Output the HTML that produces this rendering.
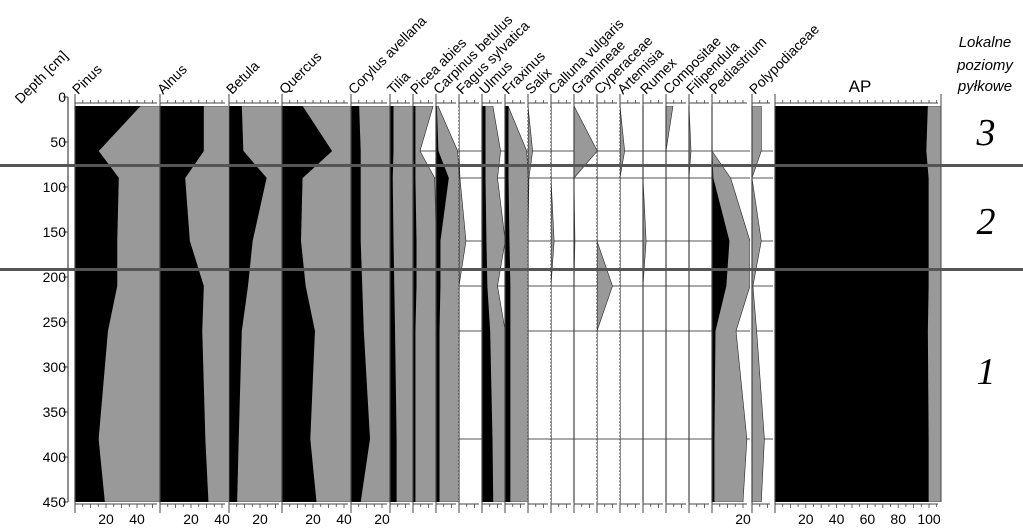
<!DOCTYPE html>
<html><head><meta charset="utf-8">
<style>
html,body{margin:0;padding:0;background:#fff;}
svg{display:block;font-family:"Liberation Sans",Arial,sans-serif;}
</style></head>
<body>
<svg id="chart" width="1023" height="532" viewBox="0 0 1023 532" xmlns="http://www.w3.org/2000/svg">
<g id="plots"></g>
<g id="axes"></g>
<text x="20" y="103" font-size="14" transform="rotate(-45 22 103)">Depth [cm]</text>
<text x="860" y="92" font-size="17" text-anchor="middle">AP</text>
<g font-style="italic" font-size="15" text-anchor="middle">
<text x="985" y="47">Lokalne</text><text x="985" y="70">poziomy</text><text x="985" y="91">pyłkowe</text>
</g>
<rect x="0" y="164" width="1023" height="3" fill="#555"/>
<rect x="0" y="268" width="1023" height="3" fill="#555"/>
<g font-family="'Liberation Serif',serif" font-style="italic" font-size="38" text-anchor="middle">
<text x="986" y="145">3</text>
<text x="986" y="234">2</text>
<text x="986" y="384">1</text>
</g>
</svg>
<script>
// ---- data ----
const depths=[10,60,90,160,210,260,380,450];
const depthTicks=[0,50,100,150,200,250,300,350,400,450];
const taxa=["Pinus","Alnus","Betula","Quercus","Corylus avellana","Tilia","Picea abies","Carpinus betulus","Fagus sylvatica","Ulmus","Fraxinus","Salix","Calluna vulgaris","Gramineae","Cyperaceae","Artemisia","Rumex","Compositae","Filipendula","Pediastrium","Polypodiaceae","AP"];
const pinusVals=[42,15,28,27,27,21,15,19];
const alnusVals=[28,28,16,19,28,27,29,31];
const betulaVals=[8,9,24,15,12,8,6,5];
const quercusVals=[13,32,13,12,15,21,18,22];
const corylusVals=[5,6,6,6,7,8,12,6];
const tiliaVals=[2,2,1.5,2,2.5,3,4,4];
const piceaVals=[1.3,1.3,1.3,2,2,1.3,1.3,1.3];
const piceaExag=[13,4.5,14,15,15,15,15,15];
const carpinusVals=[0.3,1.3,8,2.6,2.6,2,2,2];
const carpinusExag=[1.3,14,15,15,15,15,15,15];
const fagusVals=[0,0,0,0,0,0,0,0];
const fagusExag=[0,0,0.6,4.5,0,0,0,0];
const ulmusVals=[2,2,2,2.6,3.2,5,6.5,7];
const ulmusExag=[7,12,10,15,10,15,15,15];
const fraxinusVals=[2,2,2,2.6,3.2,3.2,3.2,3.2];
const fraxinusExag=[2,14,15,15,15,15,15,15];
const salixExag=[0,3,0.6,0,0,0,0,0];
const callunaExag=[0,0,0,2,0,0,0,0];
const gramineaeExag=[0,15,0,0.6,0,0,0,0];
const cyperaceaeExag=[0,0,0,0,10,0,0,0];
const artemisiaExag=[0,3,0,0,0,0,0,0];
const rumexExag=[0,0,0,2,0,0,0,0];
const compositaeExag=[4.5,0,0,0,0,0,0,0];
const filipendulaExag=[0,1.3,0,0,0,0,0,0];
const pediastriumVals=[0,0,0.6,11,9,2,1.3,1.3];
const pediastriumExag=[0,0,12,24.5,24.5,15.5,22.5,20];
const polypodExag=[6,6,0,6,0.6,3,8,6];
const apVals=[99,98,99.5,99.5,99.5,99,99.5,99.5];
const tickLabelsPct=[20,40];
const apTickLabels=[20,40,60,80,100];

// ---- layout ----
const Z=new Array(8).fill(0), FULL=new Array(8).fill(200);
const cols=[
 {l:75,r:160,b:pinusVals,g:FULL,t:[20,40]},
 {l:160,r:228,b:alnusVals,g:FULL,t:[20,40]},
 {l:229,r:282,b:betulaVals,g:FULL,t:[20]},
 {l:282,r:351,b:quercusVals,g:FULL,t:[20,40]},
 {l:351,r:390,b:corylusVals,g:FULL,t:[20]},
 {l:390,r:413,b:tiliaVals,g:FULL,t:[]},
 {l:413,r:436,b:piceaVals,g:piceaExag,t:[]},
 {l:436,r:459,b:carpinusVals,g:carpinusExag,t:[]},
 {l:459,r:482,b:fagusVals,g:fagusExag,t:[],dot:true},
 {l:482,r:505,b:ulmusVals,g:ulmusExag,t:[]},
 {l:505,r:528,b:fraxinusVals,g:fraxinusExag,t:[]},
 {l:528,r:551,b:Z,g:salixExag,t:[],dot:true},
 {l:551,r:574,b:Z,g:callunaExag,t:[],dot:true},
 {l:574,r:597,b:Z,g:gramineaeExag,t:[]},
 {l:597,r:620,b:Z,g:cyperaceaeExag,t:[],dot:true},
 {l:620,r:643,b:Z,g:artemisiaExag,t:[],dot:true},
 {l:643,r:666,b:Z,g:rumexExag,t:[]},
 {l:666,r:689,b:Z,g:compositaeExag,t:[]},
 {l:689,r:712,b:Z,g:filipendulaExag,t:[]},
 {l:712,r:750,b:pediastriumVals,g:pediastriumExag,t:[20]},
 {l:752,r:773,b:Z,g:polypodExag,t:[]},
 {l:775,r:941,b:apVals,g:FULL,t:apTickLabels,ap:true}
];
const K=1.55, KAP=1.54;
const NS="http://www.w3.org/2000/svg";
function y(d){return 97+0.9*d;}
function mk(tag,attrs,parent){const e=document.createElementNS(NS,tag);for(const k in attrs)e.setAttribute(k,attrs[k]);parent.appendChild(e);return e;}
const plots=document.getElementById('plots'), axes=document.getElementById('axes');
const defs=mk('defs',{},plots);
const sampleDepths=[60,90,160,210,260,380];

cols.forEach((c,i)=>{
  const k=c.ap?KAP:K;
  const g=mk('g',{},plots);
  
  
  const cp=mk('clipPath',{id:'cp'+i},defs);
  mk('rect',{x:c.l,y:y(10),width:c.r-c.l,height:y(450)-y(10)},cp);
  // sample lines
  if(c.l>=413&&!c.ap){
    sampleDepths.forEach(d=>{
      const ln=mk('line',{x1:c.l,x2:c.r,y1:y(d),y2:y(d),stroke:'#555','stroke-width':1},g);
      
      
    });
  }
  const inner=mk('g',{'clip-path':'url(#cp'+i+')'},g);
  let gp=c.l+','+y(depths[0])+' ';
  depths.forEach((d,j)=>{gp+=(c.l+Math.max(c.g[j],c.b[j])*k)+','+y(d)+' ';});
  gp+=c.l+','+y(depths[depths.length-1]);
  const gpoly=mk('polygon',{points:gp,fill:'#999',stroke:'#222','stroke-width':0.6},inner);
  
  
  let bp=c.l+','+y(depths[0])+' ';
  depths.forEach((d,j)=>{bp+=(c.l+c.b[j]*k)+','+y(d)+' ';});
  bp+=c.l+','+y(depths[depths.length-1]);
  const bpoly=mk('polygon',{points:bp,fill:'#000',stroke:'#000','stroke-width':0.8},inner);
  
  
  // left border
  mk('line',{x1:c.l,x2:c.l,y1:y(10),y2:y(450),stroke:'#444','stroke-width':1.2,'stroke-dasharray':c.dot?'2,1.5':'none'},g);
  // top axis
  mk('line',{x1:c.l,x2:c.r-3,y1:103,y2:103,stroke:'#444','stroke-width':1},g);
  mk('line',{x1:c.l,x2:c.l,y1:94,y2:106,stroke:'#444','stroke-width':1},g);
  // bottom axis
  mk('line',{x1:c.l,x2:c.r-3,y1:504,y2:504,stroke:'#444','stroke-width':1},g);
  mk('line',{x1:c.l,x2:c.l,y1:502,y2:513,stroke:'#444','stroke-width':1},g);
  for(let p=5;c.l+p*k<c.r-2;p+=5){
    const x=c.l+p*k;
    mk('line',{x1:x,x2:x,y1:100,y2:103,stroke:'#444','stroke-width':0.8},g);
    mk('line',{x1:x,x2:x,y1:504,y2:p%10===0?508:507,stroke:'#444','stroke-width':0.8},g);
  }
  c.t.forEach(v=>{
    const t=mk('text',{x:c.l+v*k,y:524,'font-size':14,'text-anchor':'middle'},g);
    t.textContent=v;
    
    
  });
  if(!c.ap){
    const tl=mk('text',{x:c.l+3,y:95,'font-size':14,transform:'rotate(-45 '+(c.l+3)+' 95)'},g);
    tl.textContent=taxa[i];
    
    
  }
});
// right border of AP
mk('line',{x1:941,x2:941,y1:94,y2:y(450),stroke:'#444','stroke-width':1},axes);
// depth axis
mk('line',{x1:68,x2:68,y1:y(0),y2:y(450),stroke:'#444','stroke-width':1.2},axes);
depthTicks.forEach(d=>{
  mk('line',{x1:63,x2:68,y1:y(d),y2:y(d),stroke:'#444','stroke-width':1},axes);
  const t=mk('text',{x:66,y:y(d)+5,'font-size':14,'text-anchor':'end'},axes);
  t.textContent=d;
  
  
});
</script>
</body></html>
